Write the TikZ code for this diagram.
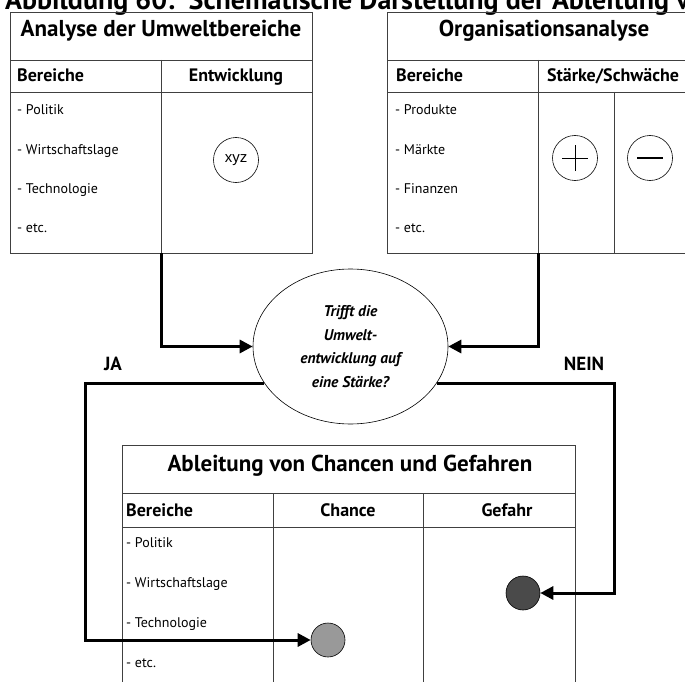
\documentclass[tikz,border=0pt]{standalone}
\usepackage{fontspec}
\setmainfont{PT Sans}
\newfontfamily\arialfont{Liberation Sans}
\usetikzlibrary{shapes,arrows.meta,calc,positioning}
\definecolor{linie}{gray}{0.25}
\definecolor{chancegrau}{gray}{0.6}
\definecolor{gefahrgrau}{gray}{0.29}
\tikzset{
    tab/.style={draw=linie, line width=0.9pt},
    titel/.style={font=\bfseries\fontsize{23}{27}\selectfont, anchor=base, inner sep=0pt},
    kopf/.style={font=\bfseries\fontsize{18}{21}\selectfont, anchor=base, inner sep=0pt},
    eintrag/.style={font=\fontsize{14}{17}\selectfont, anchor=base west, inner sep=0pt},
    symbol/.style={circle, draw, line width=0.6pt, minimum size=45pt, inner sep=0pt},
    punkt/.style={circle, draw, line width=0.6pt, minimum size=34pt, inner sep=0pt},
    fluss/.style={line width=3pt, -{Triangle[length=13pt,width=13pt]}},
    entscheid/.style={ellipse, draw, line width=0.6pt, fill=white, minimum width=195pt,
        minimum height=155pt, inner sep=0pt, align=center,
        font=\bfseries\itshape\fontsize{15.5}{23.5}\selectfont},
    antwort/.style={font=\bfseries\fontsize{19}{22}\selectfont, inner sep=0pt}
}

\begin{document}
\begin{tikzpicture}[x=1pt,y=-1pt]
\useasboundingbox (0,0) rectangle (685,682);
\clip (0,0) rectangle (685,682);

% Ueberschrift, oben abgeschnitten
\node[font=\bfseries\fontsize{28}{32}\selectfont, anchor=base west, inner sep=0pt] (abb) at (5,10)
    {Abbildung 60:\hspace{14pt}Schematische Darstellung der Ableitung von Chancen und Gefahren};

% Analyse der Umweltbereiche
\draw[tab] (10,12) rectangle (312,253);
\draw[tab] (10,60) -- (312,60);
\draw[tab] (10,92) -- (312,92);
\draw[tab] (161,60) -- (161,253);
\node[titel] (umwtitel) at (161,37) {Analyse der Umweltbereiche};
\node[kopf, anchor=base west] (umwber) at (17,82) {Bereiche};
\node[kopf] (umwentw) at (236,82) {Entwicklung};
\foreach \t [count=\i] in {Politik, Wirtschaftslage, Technologie, etc.}
    \node[eintrag] (umw\i) at (17,76+39*\i) {- \t};
\node[symbol, font=\arialfont\fontsize{15}{18}\selectfont] (xyz) at (236,160) {xyz};

% Organisationsanalyse
\draw[tab] (387,12) rectangle (688,253);
\draw[tab] (387,60) -- (688,60);
\draw[tab] (387,92) -- (688,92);
\draw[tab] (538,60) -- (538,253);
\draw[tab] (614,92) -- (614,253);
\node[titel] (orgtitel) at (544,37) {Organisationsanalyse};
\node[kopf, anchor=base west] (orgber) at (396,82) {Bereiche};
\node[kopf] (orgsw) at (613,82) {Stärke/Schwäche};
\foreach \t [count=\i] in {Produkte, Märkte, Finanzen, etc.}
    \node[eintrag] (org\i) at (395,76+39*\i) {- \t};
\node[symbol] (plus) at (575,158) {};
\draw[line width=1pt] ([xshift=-13pt]plus.center) -- ([xshift=13pt]plus.center);
\draw[line width=1pt] ([yshift=-13pt]plus.center) -- ([yshift=13pt]plus.center);
\node[symbol] (minus) at (650,158) {};
\draw[line width=1.2pt] ([xshift=-13pt]minus.center) -- ([xshift=13pt]minus.center);

% Entscheidung
\node[entscheid] (frage) at (350.5,346.5) {Trifft die\\Umwelt-\\entwicklung auf\\eine Stärke?};
\coordinate (umwfuss) at (161,253);
\coordinate (orgfuss) at (538,253);
\draw[fluss] (umwfuss) |- (frage);
\draw[fluss] (orgfuss) |- (frage);
\node[antwort] (ja) at (113,364) {JA};
\node[antwort] (nein) at (584,364) {NEIN};

% Ableitung von Chancen und Gefahren
\draw[tab] (122,700) -- (122,445) -- (575,445) -- (575,700);
\draw[tab] (122,493) -- (575,493);
\draw[tab] (122,527) -- (575,527);
\draw[tab] (273,493) -- (273,700);
\draw[tab] (423,493) -- (423,700);
\node[titel] (abltitel) at (350,471) {Ableitung von Chancen und Gefahren};
\node[kopf, anchor=base west] (ablber) at (126,516) {Bereiche};
\node[kopf] (ablchance) at (348,516) {Chance};
\node[kopf] (ablgefahr) at (507,516) {Gefahr};
\foreach \t [count=\i] in {Politik, Wirtschaftslage, Technologie, etc.}
    \node[eintrag] (abl\i) at (126,507+40*\i) {- \t};
\node[punkt, fill=chancegrau] (chance) at (328,640) {};
\node[punkt, fill=gefahrgrau] (gefahr) at (523,593) {};
\coordinate (jaecke) at (85,640);
\coordinate (neinecke) at (614,593);
\draw[fluss] (frage.203) -| (jaecke) -- (chance);
\draw[fluss] (frage.337) -| (neinecke) -- (gefahr);
\end{tikzpicture}
\end{document}
